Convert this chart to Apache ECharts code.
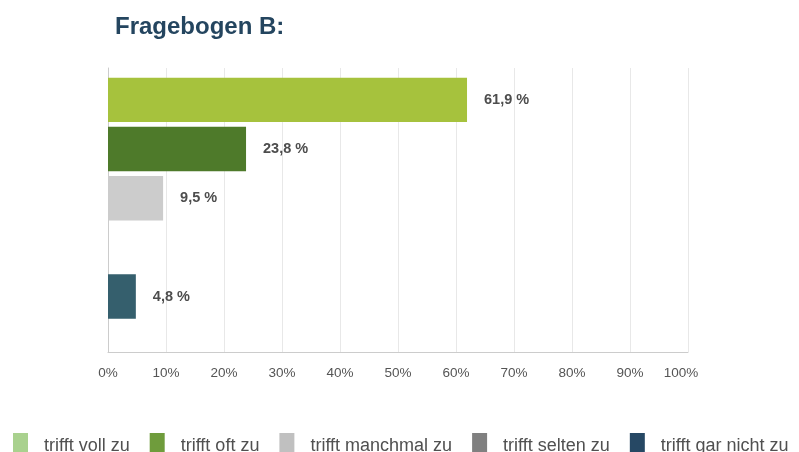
<!DOCTYPE html>
<html lang="de">
<head>
    <meta charset="utf-8">
    <title>Fragebogen B</title>
    <script src="https://cdn.jsdelivr.net/npm/echarts@6/dist/echarts.min.js"></script>
    <style>
        html, body { margin: 0; padding: 0; background: #fff; }
        #main { width: 799px; height: 452px; }
    </style>
</head>
<body>
<div id="main"></div>
<script type="text/javascript">
    // Antwortkategorien und Anteile in %
    var categories = ['trifft voll zu', 'trifft oft zu', 'trifft manchmal zu', 'trifft selten zu', 'trifft gar nicht zu'];
    var values = [61.9, 23.8, 9.5, 0, 4.8];
    var barColors = ['#a6c23d', '#4e7a2a', '#cccccc', '#7f7f7f', '#355f6d'];
    var legendColors = ['#a9d18e', '#6f9c3c', '#c0c0c0', '#808080', '#264864'];
    var xTicks = [0, 10, 20, 30, 40, 50, 60, 70, 80, 90, 100];

    var myChart = echarts.init(document.getElementById('main'));

    var series = categories.map(function (name, i) {
        return {
            name: name,
            type: 'bar',
            barWidth: 44.4,
            barGap: '10.7%',
            data: [values[i]],
            itemStyle: {color: barColors[i]},
            label: {
                show: true,
                position: 'right',
                distance: 17,
                color: '#4d4d4d',
                fontFamily: 'Liberation Sans',
                fontWeight: 'bold',
                fontSize: 14.5,
                formatter: function (p) {
                    if (!p.value) return '';
                    return p.value.toFixed(1).replace('.', ',') + ' %';
                }
            }
        };
    });
    // leerer Platzhalter unten, damit die Balken wie im Original sitzen
    series.push({name: '', type: 'bar', barWidth: 18.8, data: ['-'], silent: true});

    var option = {
        animation: false,
        backgroundColor: '#fff',
        title: {
            text: 'Fragebogen B:',
            left: 110,
            top: 10,
            textStyle: {
                fontFamily: 'Liberation Sans',
                fontWeight: 'bold',
                fontSize: 24,
                color: '#24455f'
            }
        },
        grid: {left: 108, right: 111, top: 68, bottom: 100},
        xAxis: {
            type: 'value',
            min: xTicks[0],
            max: xTicks[xTicks.length - 1],
            interval: 10,
            axisLine: {show: true, lineStyle: {color: '#cccccc'}},
            axisTick: {show: false},
            splitLine: {show: true, lineStyle: {color: '#e8e8e8'}},
            axisLabel: {
                margin: 14,
                color: '#555',
                fontFamily: 'Liberation Sans',
                fontSize: 13.5,
                formatter: function (v) {
                    return v === 100 ? '{last|' + v + '%}' : v + '%';
                },
                rich: {
                    last: {
                        color: '#555',
                        fontFamily: 'Liberation Sans',
                        fontSize: 13.5,
                        padding: [0, 14, 0, 0]
                    }
                }
            }
        },
        yAxis: {
            type: 'category',
            data: [''],
            axisLine: {show: true, lineStyle: {color: '#cccccc'}},
            axisTick: {show: false},
            axisLabel: {show: false}
        },
        legend: {
            left: 8,
            top: 428,
            width: 1000,
            itemWidth: 15,
            itemHeight: 26,
            itemGap: 20,
            icon: 'rect',
            data: categories.map(function (name, i) {
                return {name: name, itemStyle: {color: legendColors[i]}};
            }),
            textStyle: {
                color: '#505050',
                fontFamily: 'Liberation Sans',
                fontSize: 18,
                padding: [0, 0, 0, 11]
            }
        },
        series: series
    };

    myChart.setOption(option);
</script>
</body>
</html>
